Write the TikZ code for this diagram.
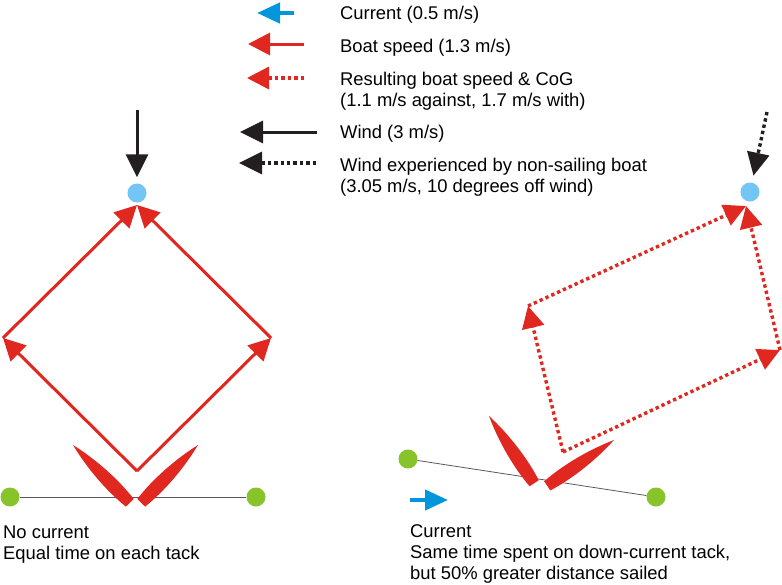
\documentclass[tikz,border=0pt]{standalone}
\usepackage{fontspec}
\setmainfont{Liberation Sans}
\usetikzlibrary{arrows.meta}
\definecolor{boatred}{RGB}{224,40,32}
\definecolor{curblue}{RGB}{0,150,220}
\definecolor{markblue}{RGB}{115,197,245}
\definecolor{buoygreen}{RGB}{134,196,42}
\definecolor{windblack}{RGB}{35,31,32}

\begin{document}
\begin{tikzpicture}
[x=1pt,y=-1pt,
lbl/.style={anchor=base west,align=left,inner sep=0pt,font=\fontsize{18.4}{20.7}\selectfont},
buoy/.style={circle,fill=buoygreen,inner sep=0pt,minimum size=19pt},
windmark/.style={circle,fill=markblue,inner sep=0pt,minimum size=19pt},
speed/.style={draw=boatred,line width=3pt,-{Triangle[length=22pt,width=22pt]}},
cog/.style={speed,line width=3.4pt,dash pattern=on 3.4pt off 3pt},
wind/.style={draw=windblack,line width=3pt,-{Triangle[length=23pt,width=22pt]}},
windapp/.style={wind,line width=3.4pt,dash pattern=on 3.4pt off 3pt},
current/.style={draw=curblue,line width=4.5pt,-{Triangle[length=23pt,width=20pt]}},
course/.style={draw=black!65,line width=0.8pt},
boat/.pic={\fill[boatred] (0,0) .. controls (25,6) and (55,8.5) .. (81,5.5) -- (81,-5.5) .. controls (55,-8.5) and (25,-6) .. (0,0) -- cycle;}]
\useasboundingbox (0,0) rectangle (782,584);

% legend
\coordinate (curH) at (257,13);  \coordinate (curT) at (294,13);
\coordinate (spdH) at (248,44);  \coordinate (spdT) at (304,44);
\coordinate (cogH) at (247,78);  \coordinate (cogT) at (304,78);
\coordinate (wndH) at (240,132); \coordinate (wndT) at (317,132);
\coordinate (appH) at (239,163); \coordinate (appT) at (316,163);
\foreach \sty/\from/\to in {current/curT/curH, speed/spdT/spdH, cog/cogT/cogH, wind/wndT/wndH, windapp/appT/appH}
	\draw [\sty] (\from) -- (\to);
% multi-line labels: base is the last line
\node (curTxt) at (340,19) [lbl] {Current (0.5 m/s)};
\node (spdTxt) at (340,52) [lbl] {Boat speed (1.3 m/s)};
\node (cogTxt) at (340,106) [lbl] {Resulting boat speed \& CoG\\(1.1 m/s against, 1.7 m/s with)};
\node (wndTxt) at (340,138) [lbl] {Wind (3 m/s)};
\node (appTxt) at (340,192) [lbl] {Wind experienced by non-sailing boat\\(3.05 m/s, 10 degrees off wind)};

% no current
\node (markL) at (137,193) [windmark] {};
\coordinate (windL) at (137,110);
\draw [wind,shorten >=6pt] (windL) -- (markL);
\coordinate (bL) at (137,471);
\coordinate (lL) at (3,338);
\coordinate (rL) at (271,338);
\coordinate (tL) at (137,205);
\foreach \from/\to in {bL/lL, lL/tL, bL/rL, rL/tL}
	\draw [speed] (\from) -- (\to);
\node (gL1) at (10,497) [buoy] {};
\node (gL2) at (256,497) [buoy] {};
\draw [course] (gL1) -- (gL2);
\pic [rotate=-45.5] at (73,445) {boat};
\pic [rotate=-134.5] at (198,445) {boat};
\node (noCurTxt) at (3,559) [lbl] {No current\\Equal time on each tack};

% current
\node (markR) at (750,192) [windmark] {};
\coordinate (windR) at (767,112);
\draw [windapp,shorten >=7pt] (windR) -- (markR);
\coordinate (bR) at (563,452);
\coordinate (lR) at (528,306);
\coordinate (rR) at (780,350);
\coordinate (tR) at (746,206);
\foreach \from/\to in {bR/lR, lR/tR, bR/rR, rR/tR}
	\draw [cog] (\from) -- (\to);
\node (gR1) at (408,459) [buoy] {};
\node (gR2) at (656,497) [buoy] {};
\draw [course] (gR1) -- (gR2);
\pic [rotate=-56.1] at (489,416) {boat};
\pic [rotate=-145.5] at (614,440) {boat};
\coordinate (curR1) at (410,500);
\coordinate (curR2) at (448,500);
\draw [current] (curR1) -- (curR2);
\node (curTxtR) at (410,579) [lbl] {Current\\Same time spent on down-current tack,\\but 50\% greater distance sailed};

\end{tikzpicture}
\end{document}
